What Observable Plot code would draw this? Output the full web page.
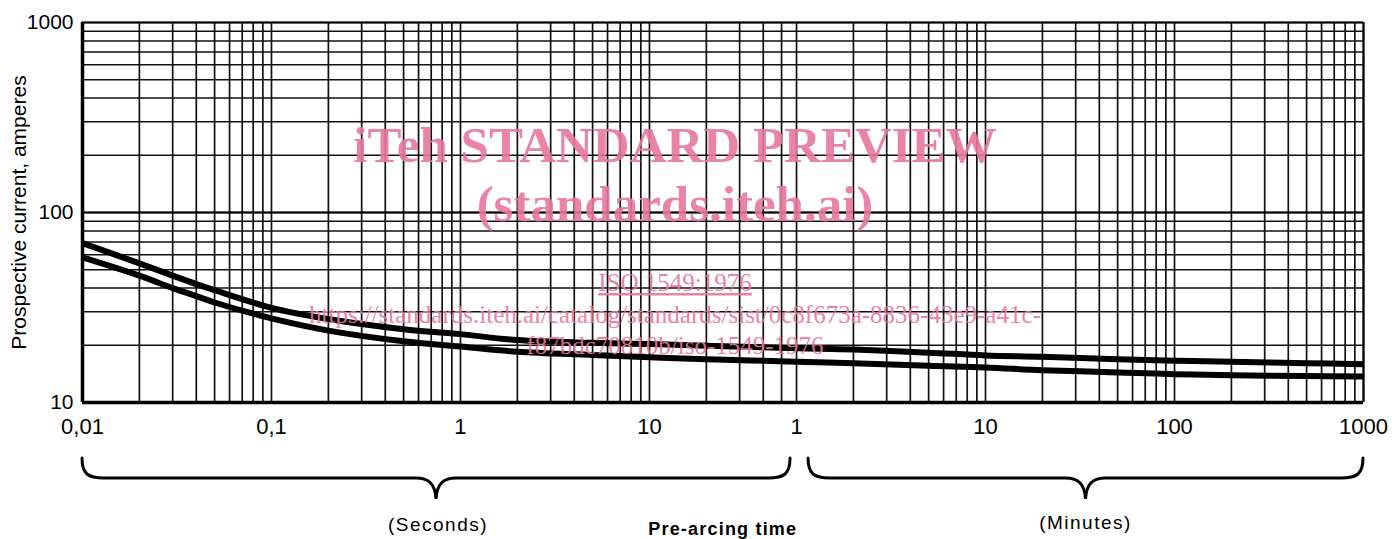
<!DOCTYPE html>
<html>
<head>
<meta charset="utf-8">
<script src="https://cdn.jsdelivr.net/npm/d3@7"></script>
<script src="https://cdn.jsdelivr.net/npm/@observablehq/plot@0.6"></script>
<style>
  html, body { margin: 0; padding: 0; background: #fff; }
  #chart svg { display: block; }
</style>
</head>
<body>
<div id="chart"></div>
<script>
// ---- data (time in seconds, current in amperes) ----
const timeSeconds = [0.01, 0.02, 0.03, 0.04, 0.05, 0.1, 0.2, 0.5, 1, 2, 5, 10, 20, 60, 120, 300, 600, 1200, 3000, 6000, 12000, 30000, 60000];
const upperAmps   = [69, 54, 46.5, 42, 39, 31.5, 27.5, 24.3, 22.9, 21.3, 20.6, 20.3, 19.9, 19.3, 19.0, 18.3, 17.7, 17.4, 16.9, 16.6, 16.4, 16.1, 15.9];
const lowerAmps   = [58, 46.5, 40, 36.3, 33.6, 27.7, 23.9, 21.0, 19.7, 18.5, 17.8, 17.3, 16.9, 16.4, 16.1, 15.6, 15.3, 14.8, 14.4, 14.1, 13.9, 13.8, 13.7];
const seriesNames = ["upper", "lower"];

// axis ticks
const xTickValues = [0.01, 0.1, 1, 10, 60, 600, 6000, 60000];
const xTickLabels = ["0,01", "0,1", "1", "10", "1", "10", "100", "1000"];
const yTickValues = [10, 100, 1000];
const yTickLabels = ["10", "100", "1000"];

// log-paper grid: mantissas per decade
const mantissas = [1, 2, 3, 4, 5, 6, 7, 8, 9];
const secondDecades = [0.01, 0.1, 1, 10];      // seconds section (up to 1 min)
const minuteDecades = [1, 10, 100];            // minutes section
const ampDecades = [10, 100];
const secondsPerMinute = 60;

// text
const yLabel = "Prospective current, amperes";
const secondsLabel = "(Seconds)";
const minutesLabel = "(Minutes)";
const xLabel = "Pre-arcing time";
const watermark = ["iTeh STANDARD PREVIEW", "(standards.iteh.ai)", "ISO 1549:1976",
  "https://standards.iteh.ai/catalog/standards/sist/0c8f673a-8836-43e9-a41c-",
  "f87bdc70810b/iso-1549-1976"];

// ---- build tables ----
const curves = [];
timeSeconds.forEach((t, i) => {
  curves.push({t, amps: upperAmps[i], series: seriesNames[0]});
  curves.push({t, amps: lowerAmps[i], series: seriesNames[1]});
});

const gridX = [];
secondDecades.forEach(d => mantissas.forEach(m => { const v = m * d; if (v < secondsPerMinute) gridX.push(v); }));
minuteDecades.forEach(d => mantissas.forEach(m => gridX.push(m * d * secondsPerMinute)));
gridX.push(1000 * secondsPerMinute);

const gridY = [];
ampDecades.forEach(d => mantissas.forEach(m => gridY.push(m * d)));
gridY.push(1000);

const xDomain = [timeSeconds[0], timeSeconds[timeSeconds.length - 1]];
const yDomain = [yTickValues[0], yTickValues[yTickValues.length - 1]];
const xTicks = xTickValues.map((v, i) => ({v, label: xTickLabels[i]}));
const yTicks = yTickValues.map((v, i) => ({v, label: yTickLabels[i]}));

// annotation: braces + labels under the axis, positioned through the x scale
function annotations(index, scales, values, dimensions) {
  const x = scales.x;
  const g = d3.create("svg:g");
  const yTop = 458, yMid = 478, yTip = 499;
  function brace(x0, x1) {
    const xc = (x0 + x1) / 2;
    const p = d3.path();
    p.moveTo(x0, yTop);
    p.bezierCurveTo(x0, yMid - 4, x0 + 6, yMid, x0 + 22, yMid);
    p.lineTo(xc - 20, yMid);
    p.bezierCurveTo(xc - 8, yMid, xc - 1, yMid + 5, xc, yTip);
    p.bezierCurveTo(xc + 1, yMid + 5, xc + 8, yMid, xc + 20, yMid);
    p.lineTo(x1 - 22, yMid);
    p.bezierCurveTo(x1 - 6, yMid, x1, yMid - 4, x1, yTop);
    g.append("path").attr("d", p.toString())
      .attr("fill", "none").attr("stroke", "#000").attr("stroke-width", 3)
      .attr("stroke-linecap", "round");
    return xc;
  }
  const xs0 = x(xDomain[0]), xs1 = x(secondsPerMinute) - 6;
  const xm0 = x(secondsPerMinute) + 12, xm1 = x(xDomain[1]);
  const cs = brace(xs0, xs1);
  const cm = brace(xm0, xm1);
  const txt = (s, cx, cy, opts = {}) => g.append("text").text(s)
      .attr("x", cx).attr("y", cy).attr("text-anchor", "middle")
      .attr("font-family", opts.family || "'Liberation Sans', Arial, sans-serif")
      .attr("font-size", opts.size || 17)
      .attr("font-weight", opts.weight || "normal")
      .attr("letter-spacing", opts.ls ?? 2)
      .attr("fill", opts.fill || "#000")
      .attr("text-decoration", opts.deco || null);
  txt(secondsLabel, cs + 2, 531, {size: 19, ls: 1.5});
  txt(minutesLabel, cm, 529, {size: 19, ls: 1.5});
  txt(xLabel, (cs + cm) / 2 - 38, 535, {size: 18, weight: "bold", ls: 1.2});

  // watermark
  const wm = {family: "'Liberation Serif', 'Times New Roman', serif", fill: "#e8779b", ls: 0};
  const wx = 675;
  txt(watermark[0], wx, 162, {...wm, size: 51, weight: "bold"}).attr("opacity", 0.9);
  txt(watermark[1], wx, 221, {...wm, size: 51, weight: "bold"}).attr("opacity", 0.9);
  txt(watermark[2], wx, 291, {...wm, size: 25, deco: "underline"}).attr("opacity", 0.9);
  txt(watermark[3], wx, 323, {...wm, size: 25}).attr("opacity", 0.9);
  txt(watermark[4], wx, 354, {...wm, size: 25}).attr("opacity", 0.9);
  return g.node();
}

const chart = Plot.plot({
  width: 1392,
  height: 539,
  marginLeft: 82,
  marginRight: 29,
  marginTop: 22,
  marginBottom: 137,
  x: {type: "log", domain: xDomain, axis: null},
  y: {type: "log", domain: yDomain, axis: null},
  style: {background: "#fff", fontFamily: "'Liberation Sans', Arial, sans-serif", color: "#000"},
  marks: [
    Plot.ruleX(gridX, {y1: yDomain[0], y2: yDomain[1], stroke: "#111", strokeWidth: 1.7}),
    Plot.ruleY(gridY, {x1: xDomain[0], x2: xDomain[1], stroke: "#111", strokeWidth: 1.5}),
    Plot.ruleY([yDomain[1]], {x1: xDomain[0], x2: xDomain[1], stroke: "#000", strokeWidth: 2.2}),
    Plot.ruleY([100], {x1: xDomain[0], x2: xDomain[1], stroke: "#000", strokeWidth: 2.2}),
    Plot.ruleX([xDomain[1]], {y1: yDomain[0], y2: yDomain[1], stroke: "#000", strokeWidth: 2}),
    Plot.ruleX([xDomain[0]], {y1: yDomain[0], y2: yDomain[1], stroke: "#000", strokeWidth: 3.5}),
    Plot.ruleY([yDomain[0]], {x1: xDomain[0], x2: xDomain[1], stroke: "#000", strokeWidth: 3.5}),
    Plot.line(curves, {x: "t", y: "amps", z: "series", stroke: "#000", strokeWidth: 6,
      curve: "catmull-rom", strokeLinecap: "butt"}),
    Plot.text(xTicks, {x: "v", text: "label", frameAnchor: "bottom", lineAnchor: "top",
      dy: 16, fontSize: 22, fill: "#000"}),
    Plot.text(yTicks, {y: "v", text: "label", frameAnchor: "left", textAnchor: "end",
      dx: -9, fontSize: 21, fill: "#000"}),
    Plot.text([yLabel], {text: d => d, frameAnchor: "left", textAnchor: "middle", dx: -63, rotate: -90,
      fontSize: 21, letterSpacing: 2.5, fill: "#000"}),
    annotations
  ]
});
document.getElementById("chart").append(chart);
</script>
</body>
</html>
